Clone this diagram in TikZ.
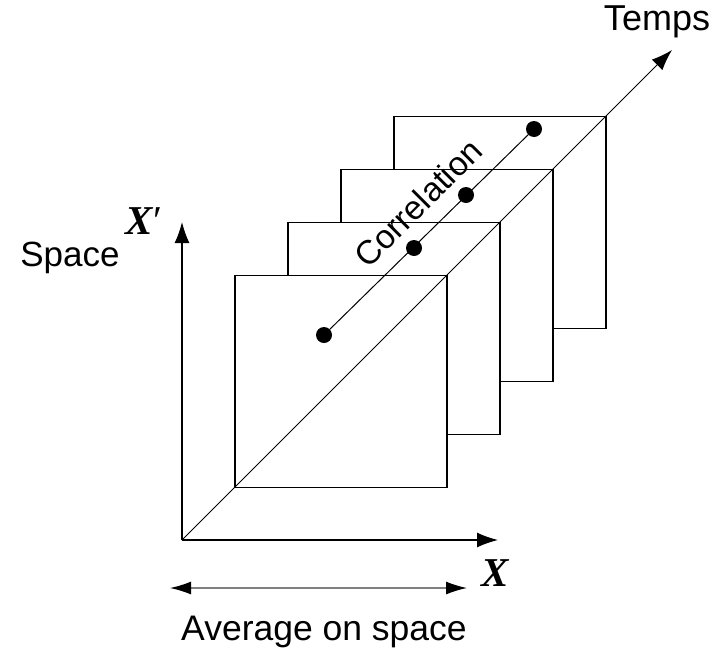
\documentclass[tikz,border=0pt]{standalone}
\usepackage{fontspec}
\setmainfont{Liberation Sans}
\newfontfamily\varfont{Liberation Serif}
\usetikzlibrary{arrows.meta,positioning}

\begin{document}
\begin{tikzpicture}[x=1pt, y=-1pt, >={Latex[length=21pt,width=15pt]},
frame/.style={draw, fill=white, line width=1.1pt, minimum size=212pt, inner sep=0pt},
axis/.style={->, line width=1.2pt},
dot/.style={circle, fill=black, minimum size=16pt, inner sep=0pt},
lbl/.style={font=\fontsize{35}{40}\selectfont, inner sep=0pt},
var/.style={inner sep=0pt, font=\fontsize{41}{46}\selectfont\varfont\bfseries\itshape}]
\useasboundingbox (0,0) rectangle (722,648);
% stacked frames, back to front
\foreach \i in {4,3,2,1}
  \node[frame] (f\i) at ({341+53*(\i-1)}, {381.5-53*(\i-1)}) {};
% axes
\coordinate (o) at (182,540);
\coordinate (xa) at (498,540);
\coordinate (ya) at (182,222);
\coordinate (ta) at (672,50);
\draw[axis] (o) -- (xa);
\draw[axis] (o) -- (ya);
\draw[->, line width=1pt] (o) -- (ta);
% correlation points
\node[dot] (d1) at (324,335) {};
\node[dot] (d2) at (414,248) {};
\node[dot] (d3) at (466,195) {};
\node[dot] (d4) at (534,129) {};
\draw[line width=1pt] (d1) -- (d4);
\node[lbl, font=\fontsize{33.5}{38}\selectfont, rotate=45] (corr) at (418,203) {Correlation};
% labels
\node[lbl, font=\fontsize{36}{42}\selectfont] (temps) at (657,22) {Temps};
\node[lbl] (space) at (70,258) {Space};
\node[var] (xp) at (144,221) {X\kern1pt\mdseries\upshape′};
\node[var] (xl) at (495,573) {X};
% average on space
\coordinate (al) at (170,588);
\coordinate (ar) at (467,588);
\draw[{Latex[length=21pt,width=13pt,black]}-{Latex[length=21pt,width=13pt,black]}, draw=gray, line width=1.3pt] (al) -- (ar);
\node[lbl, font=\fontsize{35.5}{42}\selectfont] (avg) at (324,632) {Average on space};
\end{tikzpicture}
\end{document}
